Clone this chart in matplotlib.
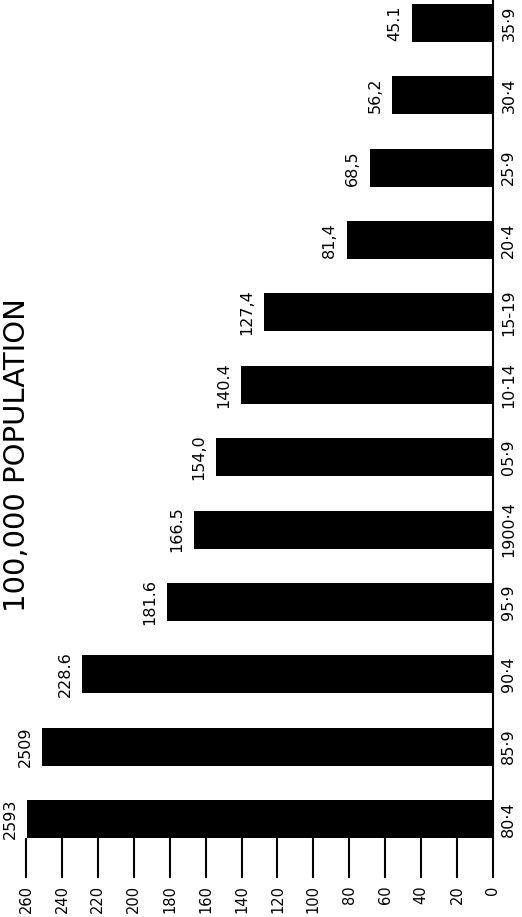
import matplotlib
matplotlib.use('Agg')
import matplotlib.pyplot as plt

# periods, bottom to top as they sit in the (rotated) scan
periods = ['80·4', '85·9', '90·4', '95·9', '1900·4', '05·9',
           '10·14', '15-19', '20·4', '25·9', '30·4', '35·9']
rates = [259.3, 250.9, 228.6, 181.6, 166.5, 154.0,
         140.4, 127.4, 81.4, 68.5, 56.2, 45.1]
rate_labels = ['2593', '2509', '228.6', '181.6', '166.5', '154,0',
               '140.4', '127,4', '81,4', '68,5', '56,2', '45.1']
value_ticks = list(range(0, 261, 20))

fig = plt.figure(figsize=(5.22, 9.17), dpi=100)
ax = fig.add_axes([26/522, 79/917, 467/522, 838/917])

pos = list(range(len(periods)))
ax.barh(pos, rates, height=0.525, color='black')

ax.set_xlim(260, 0)
ax.set_ylim(-0.2625, 11.318)

for p, v, lab in zip(pos, rates, rate_labels):
    ax.annotate(lab, (v, p), xytext=(-7, 0), textcoords='offset points',
                rotation=90, ha='right', va='center', fontsize=11.5)

# value axis (bottom of the rotated picture)
ax.set_xticks(value_ticks)
ax.set_xticklabels([str(t) for t in value_ticks], rotation=90, fontsize=10.5)
ax.tick_params(axis='x', direction='out', length=29, width=1.5, pad=5)

# periods on the right, zero line as right spine
ax.yaxis.tick_right()
ax.set_yticks(pos)
ax.set_yticklabels(periods, rotation=90, fontsize=11.5, va='center')
ax.tick_params(axis='y', length=0, pad=6)

for s in ['top', 'left', 'bottom']:
    ax.spines[s].set_visible(False)
ax.spines['right'].set_linewidth(1.5)

fig.text(17/522, 1 - 455/917, '100,000 POPULATION', rotation=90,
         ha='center', va='center', fontsize=21)

fig.savefig('out.png', dpi=100)
